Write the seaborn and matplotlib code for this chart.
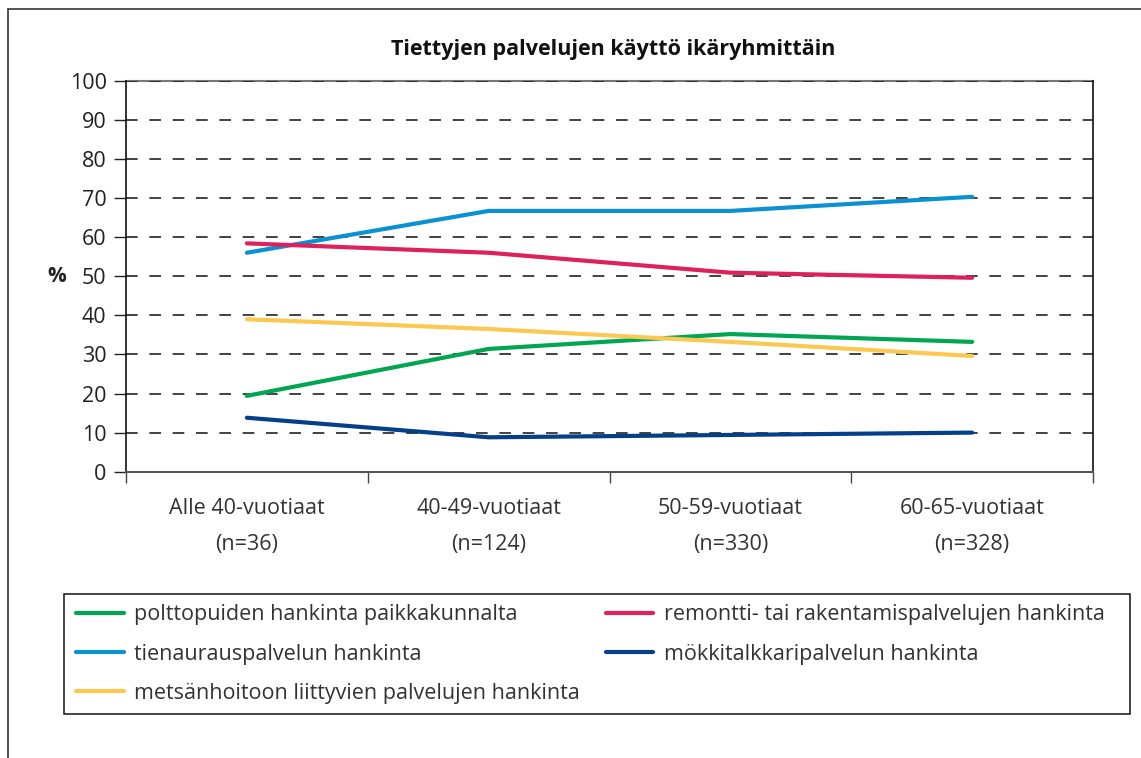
import matplotlib
matplotlib.use("Agg")
import matplotlib.pyplot as plt
import seaborn as sns
import pandas as pd
from matplotlib.patches import Rectangle

categories = ["Alle 40-vuotiaat\n(n=36)", "40-49-vuotiaat\n(n=124)",
              "50-59-vuotiaat\n(n=330)", "60-65-vuotiaat\n(n=328)"]
series_names = ["polttopuiden hankinta paikkakunnalta",
                "tienaurauspalvelun hankinta",
                "metsänhoitoon liittyvien palvelujen hankinta",
                "remontti- tai rakentamispalvelujen hankinta",
                "mökkitalkkaripalvelun hankinta"]
polttopuut = [19.4, 31.4, 35.2, 33.2]
tienaurous = [56.0, 66.7, 66.7, 70.3]
metsanhoito = [39.0, 36.5, 33.2, 29.6]
remontti = [58.4, 56.0, 50.9, 49.6]
mokkitalkkari = [13.8, 8.8, 9.4, 10.0]
colors = ["#00A651", "#0A91D2", "#FBC852", "#DE215B", "#053F8A"]
yticks = [0, 10, 20, 30, 40, 50, 60, 70, 80, 90, 100]

values = [polttopuut, tienaurous, metsanhoito, remontti, mokkitalkkari]
rows = []
for name, vals in zip(series_names, values):
    for i, v in enumerate(vals):
        rows.append({"x": i, "value": v, "series": name})
df = pd.DataFrame(rows)

sns.set_style("white")
plt.rcParams["font.family"] = ["Open Sans", "DejaVu Sans"]

fig = plt.figure(figsize=(11.41, 7.58), dpi=100)
ax = fig.add_axes([126/1141, 1-471.7/758, (1093-126)/1141, (471.7-80.7)/758])

sns.lineplot(data=df, x="x", y="value", hue="series", hue_order=series_names,
             palette=colors, linewidth=3, ax=ax, legend=False, sort=False)

ax.set_xlim(-0.5, 3.5)
ax.set_ylim(0, 100)
ax.set_yticks(yticks)
ax.set_yticklabels([str(t) for t in yticks], fontsize=15.5, color="#222222")
ax.set_xticks([-0.5, 0.5, 1.5, 2.5, 3.5])
ax.set_xticklabels([])
for i, c in enumerate(categories):
    ax.text(i, -6.8, c, ha="center", va="top", fontsize=15.5, color="#333333",
            linespacing=1.95, transform=ax.transData)
ax.tick_params(axis="y", direction="out", length=9, width=1, color="#222222", pad=5, left=True)
ax.tick_params(axis="x", direction="out", length=8, width=1, color="#444444", bottom=True)
ax.set_xlabel("")
ax.set_ylabel("")
for t in yticks[1:]:
    ax.axhline(t, color="#222222", linewidth=1.2, linestyle=(0, (7, 7)), zorder=0.5)
for s in ["left", "right"]:
    ax.spines[s].set_color("#111111")
    ax.spines[s].set_linewidth(1.2)
ax.spines["bottom"].set_color("#555555")
ax.spines["bottom"].set_linewidth(1.5)
ax.spines["top"].set_color("#777777")
ax.spines["top"].set_linewidth(1.5)
ax.spines["top"].set_zorder(0.4)

fig.text(57/1141, 1-276/758, "%", fontsize=15, fontweight="bold", ha="center", va="center",
         color="#222222")
fig.text(613/1141, 1-50/758, "Tiettyjen palvelujen käyttö ikäryhmittäin",
         fontsize=15.5, fontweight="bold", ha="center", va="center", color="#111111")

# outer frame
fig.patches.append(Rectangle((8/1141, -0.05), 1.2, 1-9/758+0.05, transform=fig.transFigure,
                             fill=False, edgecolor="#333333", linewidth=1.2))
# legend frame
fig.patches.append(Rectangle((64/1141, 1-714/758), (1130-64)/1141, 120/758,
                             transform=fig.transFigure, fill=False,
                             edgecolor="#222222", linewidth=1.2))

handles = [plt.Line2D([], [], color=c, linewidth=3) for c in colors]
leg = fig.legend(handles, series_names, ncol=2,
                 bbox_to_anchor=(72/1141, 1-600/758),
                 loc="upper left", fontsize=15.5, frameon=False,
                 handlelength=2.2, handletextpad=0.5, columnspacing=1.2,
                 labelspacing=0.85, borderpad=0.2, borderaxespad=0)
for t in leg.get_texts():
    t.set_color("#333333")

fig.savefig("out.png", dpi=100)
